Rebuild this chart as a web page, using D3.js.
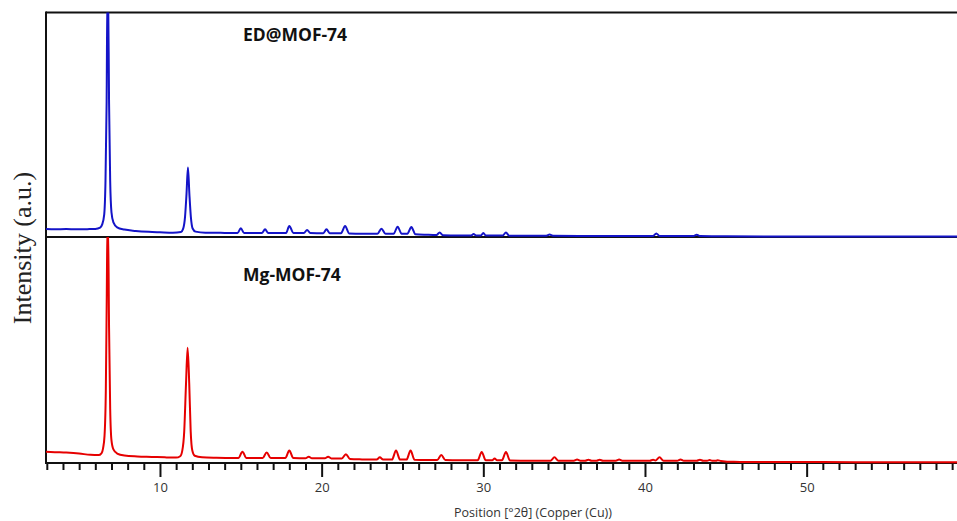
<!DOCTYPE html>
<html>
<head>
<meta charset="utf-8">
<script src="https://cdn.jsdelivr.net/npm/d3@7"></script>
<style>
  body { margin: 0; background: #fff; }
</style>
</head>
<body>
<div id="chart"></div>
<script>
// 2theta (deg) vs intensity (a.u., 100 = panel height)
const edPoints = [
  [2.95, 3.6], [3.5, 3.4], [4.2, 3.6], [4.8, 3.4], [5.5, 3.5], [6.0, 3.6], [6.3, 4.2],
  [6.42, 5.5], [6.55, 10], [6.63, 25], [6.70, 60], [6.75, 110], [6.79, 110], [6.85, 60],
  [6.92, 25], [7.0, 11], [7.12, 6.5], [7.35, 4.3], [7.8, 3.3], [8.5, 2.7], [9.3, 2.3],
  [10.0, 2.1], [10.8, 1.9], [11.3, 2.2], [11.43, 3.6], [11.55, 9], [11.64, 19], [11.73, 31],
  [11.82, 19], [11.91, 9], [12.02, 3.8], [12.2, 2.4], [12.8, 1.9], [13.5, 1.9], [14.0, 1.8],
  [14.8, 1.8], [15.0, 3.9], [15.2, 1.8],
  [16.3, 1.8], [16.5, 3.4], [16.7, 1.8],
  [17.8, 1.8], [18.0, 4.9], [18.25, 1.8],
  [18.9, 1.8], [19.1, 3.1], [19.3, 1.8],
  [20.1, 1.7], [20.3, 3.4], [20.5, 1.7],
  [21.2, 1.7], [21.45, 4.9], [21.7, 1.6],
  [22.5, 1.4],
  [23.45, 1.4], [23.7, 3.7], [23.95, 1.4],
  [24.45, 1.4], [24.7, 4.6], [24.95, 1.4],
  [25.3, 1.4], [25.55, 4.4], [25.8, 1.2],
  [26.5, 1.0],
  [27.1, 0.9], [27.3, 2.0], [27.5, 0.8],
  [28.5, 0.7],
  [29.25, 0.7], [29.4, 1.3], [29.55, 0.7],
  [29.85, 0.7], [30.0, 1.8], [30.15, 0.7],
  [31.2, 0.7], [31.4, 2.0], [31.6, 0.6],
  [33.0, 0.6],
  [33.9, 0.6], [34.1, 1.1], [34.3, 0.6],
  [36.0, 0.5], [38.0, 0.5],
  [40.5, 0.5], [40.7, 1.6], [40.9, 0.5],
  [43.0, 0.4], [43.2, 1.0], [43.4, 0.4],
  [45.0, 0.3], [50.0, 0.2], [55.0, 0.2], [59.3, 0.2]
];

const mgPoints = [
  [2.95, 5.0], [3.5, 4.8], [4.2, 4.6], [5.0, 4.2], [5.7, 3.6], [6.2, 3.5], [6.38, 4.3],
  [6.48, 6.5], [6.57, 12], [6.65, 32], [6.71, 75], [6.75, 105], [6.79, 105], [6.85, 60],
  [6.92, 24], [7.0, 10], [7.12, 6], [7.35, 4.2], [7.8, 3.3], [8.6, 2.9], [9.5, 2.7],
  [10.3, 2.5], [11.0, 2.4], [11.25, 3.0], [11.38, 5.5], [11.5, 14], [11.61, 35], [11.71, 51],
  [11.81, 35], [11.9, 14], [12.0, 5.5], [12.15, 3.2], [12.6, 2.5], [13.5, 2.3], [14.5, 2.2],
  [14.85, 2.2], [15.1, 5.0], [15.35, 2.2],
  [16.35, 2.2], [16.6, 4.7], [16.85, 2.2],
  [17.75, 2.2], [18.0, 5.5], [18.25, 2.2],
  [19.0, 2.1], [19.2, 2.8], [19.4, 2.1],
  [20.2, 2.1], [20.4, 2.8], [20.6, 2.0],
  [21.25, 2.0], [21.5, 3.9], [21.75, 1.8],
  [22.5, 1.6],
  [23.4, 1.5], [23.6, 2.5], [23.8, 1.5],
  [24.35, 1.5], [24.6, 5.5], [24.85, 1.5],
  [25.25, 1.5], [25.5, 5.5], [25.75, 1.4],
  [26.5, 1.3],
  [27.15, 1.3], [27.4, 3.5], [27.65, 1.3],
  [28.5, 1.2],
  [29.65, 1.2], [29.9, 4.9], [30.15, 1.2],
  [30.55, 1.2], [30.7, 2.0], [30.85, 1.2],
  [31.15, 1.2], [31.4, 4.9], [31.65, 1.1],
  [33.0, 1.0],
  [34.15, 1.0], [34.4, 2.5], [34.65, 1.0],
  [35.6, 1.0], [35.8, 1.5], [36.0, 1.0],
  [36.3, 1.0], [36.5, 1.4], [36.7, 1.0],
  [37.0, 1.0], [37.2, 1.4], [37.4, 1.0],
  [38.2, 1.0], [38.4, 1.5], [38.6, 1.0],
  [40.3, 1.0], [40.5, 1.4], [40.65, 1.1], [40.9, 2.5], [41.15, 1.0],
  [42.0, 1.0], [42.2, 1.6], [42.4, 1.0],
  [43.2, 1.0], [43.4, 1.4], [43.6, 1.0],
  [43.85, 1.0], [44.0, 1.3], [44.15, 1.0],
  [44.4, 1.0], [44.5, 1.2], [44.7, 0.9],
  [45.5, 0.5], [48.0, 0.4], [51.0, 0.4], [55.0, 0.3], [59.3, 0.3]
];

const majorTicks = [10, 20, 30, 40, 50];
const sampleLabels = ['ED@MOF-74', 'Mg-MOF-74'];

const W = 957, H = 521;
const xLeft = 46, xRight = 957;
const yFrameTop = 12.5, yMid = 237, yBottom = 463;

const svg = d3.select('#chart').append('svg')
  .attr('width', W)
  .attr('height', H)
  .style('font-family', "'Open Sans', sans-serif");

const x = d3.scaleLinear().domain([2.95, 59.3]).range([xLeft, xRight]);
const yTop = d3.scaleLinear().domain([0, 100]).range([yMid, yFrameTop]);
const yBot = d3.scaleLinear().domain([0, 100]).range([yBottom, yMid]);

// clip each panel
const defs = svg.append('defs');
defs.append('clipPath').attr('id', 'clipTop')
  .append('rect').attr('x', xLeft).attr('y', yFrameTop).attr('width', xRight - xLeft).attr('height', yMid - yFrameTop + 1);
defs.append('clipPath').attr('id', 'clipBot')
  .append('rect').attr('x', xLeft).attr('y', yMid).attr('width', xRight - xLeft).attr('height', yBottom - yMid + 1);

// frame
const frame = svg.append('g').attr('stroke', '#111').attr('stroke-width', 2);
frame.append('line').attr('x1', xLeft).attr('x2', xLeft).attr('y1', yFrameTop - 1).attr('y2', yBottom + 1);
frame.append('line').attr('x1', xLeft).attr('x2', xRight).attr('y1', yFrameTop).attr('y2', yFrameTop);
frame.append('line').attr('x1', xLeft).attr('x2', xRight).attr('y1', yMid).attr('y2', yMid);
frame.append('line').attr('x1', xLeft).attr('x2', xRight).attr('y1', yBottom).attr('y2', yBottom);

// x axis: minor ticks each degree, major every 10
const minorAxis = d3.axisBottom(x)
  .tickValues(d3.range(3, 60).filter(v => !majorTicks.includes(v)))
  .tickSize(7)
  .tickFormat('');
const gMinor = svg.append('g').attr('transform', `translate(0,${yBottom})`).call(minorAxis);
gMinor.select('.domain').remove();
gMinor.selectAll('line').attr('stroke', '#111').attr('stroke-width', 2);

const majorAxis = d3.axisBottom(x)
  .tickValues(majorTicks)
  .tickSize(14)
  .tickPadding(6)
  .tickFormat(d3.format('d'));
const gMajor = svg.append('g').attr('transform', `translate(0,${yBottom})`).call(majorAxis);
gMajor.select('.domain').remove();
gMajor.selectAll('line').attr('stroke', '#111').attr('stroke-width', 2);
gMajor.selectAll('text')
  .attr('fill', '#333')
  .style('font-size', '13px')
  .style('font-family', "'Open Sans', sans-serif");

// traces
const lineTop = d3.line().x(d => x(d[0])).y(d => yTop(d[1])).curve(d3.curveMonotoneX);
const lineBot = d3.line().x(d => x(d[0])).y(d => yBot(d[1])).curve(d3.curveMonotoneX);

svg.append('path')
  .datum(edPoints)
  .attr('clip-path', 'url(#clipTop)')
  .attr('d', lineTop)
  .attr('fill', 'none')
  .attr('stroke', '#1414c8')
  .attr('stroke-width', 2)
  .attr('stroke-linejoin', 'round');

svg.append('path')
  .datum(mgPoints)
  .attr('clip-path', 'url(#clipBot)')
  .attr('d', lineBot)
  .attr('fill', 'none')
  .attr('stroke', '#e60000')
  .attr('stroke-width', 2)
  .attr('stroke-linejoin', 'round');

// sample labels
svg.append('text')
  .attr('x', 243).attr('y', 41)
  .attr('font-weight', 'bold')
  .attr('font-size', 17.5)
  .attr('fill', '#111')
  .text(sampleLabels[0]);
svg.append('text')
  .attr('x', 243).attr('y', 281)
  .attr('font-weight', 'bold')
  .attr('font-size', 17.5)
  .attr('fill', '#111')
  .text(sampleLabels[1]);

// axis titles
svg.append('text')
  .attr('transform', `translate(31,248) rotate(-90)`)
  .attr('text-anchor', 'middle')
  .attr('font-family', "'Liberation Serif', 'Times New Roman', serif")
  .attr('font-size', 26)
  .attr('fill', '#222')
  .text('Intensity (a.u.)');

svg.append('text')
  .attr('x', 533).attr('y', 517)
  .attr('text-anchor', 'middle')
  .attr('font-size', 12.5)
  .attr('fill', '#333')
  .text('Position [°2θ] (Copper (Cu))');
</script>
</body>
</html>
